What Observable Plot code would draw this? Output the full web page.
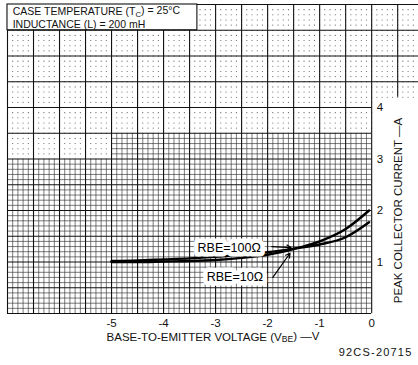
<!DOCTYPE html>
<html><head><meta charset="utf-8">
<script src="https://cdn.jsdelivr.net/npm/d3@7"></script>
<script src="https://cdn.jsdelivr.net/npm/@observablehq/plot@0.6"></script>
<style>
html,body{margin:0;padding:0;background:#fff;}
#chart svg{display:block;}
</style></head><body><div id="chart"></div>
<script>
// ---- data ----
const vbe = [-5, -4.5, -4, -3.5, -3, -2.5, -2, -1.5, -1, -0.5, -0.05];
const ic10 = [1.0, 1.0, 1.01, 1.02, 1.04, 1.08, 1.14, 1.25, 1.4, 1.64, 2.0];
const ic100 = [1.02, 1.03, 1.05, 1.07, 1.1, 1.14, 1.19, 1.26, 1.34, 1.48, 1.77];
const xTicks = [-5, -4, -3, -2, -1, 0];
const yTicks = [1, 2, 3, 4];
const seriesLabels = ["RBE=100\u03A9", "RBE=10\u03A9"];
const labelX = [-2.74, -2.63];
const labelY = [1.28, 0.70];
const arrowX1 = [-1.92, -1.9];
const arrowY1 = [1.30, 0.70];
const arrowX2 = [-1.55, -1.57];
const arrowY2 = [1.28, 1.17];
const notes = ["CASE TEMPERATURE (T_C) = 25\u00B0C", "INDUCTANCE (L) = 200 mH"];
const noteX = [-6.9, -6.9];
const noteY = [5.865, 5.61];
const noteBox = {x1: -7, x2: -3.35, y1: 5.5, y2: 6};
const xTitle = "BASE-TO-EMITTER VOLTAGE (V_BE) \u2014V";
const yTitle = "PEAK COLLECTOR CURRENT \u2014A";
const yTitlePos = {x: 0, y: 2.0};
const code = "92CS-20715";

// ---- tables ----
const curve10 = vbe.map((v, i) => ({v, i: ic10[i]}));
const curve100 = vbe.map((v, i) => ({v, i: ic100[i]}));
const annots = seriesLabels.map((t, k) => ({t, x: labelX[k], y: labelY[k], x1: arrowX1[k], y1: arrowY1[k], x2: arrowX2[k], y2: arrowY2[k]}));

// ---- graph paper ----
const r1 = v => Math.round(v * 10) / 10;
const isMajor = v => Math.abs(v * 2 - Math.round(v * 2)) < 1e-6;
const majV = d3.range(-7, 0.001, 0.5).map(r1).map(x => ({x, y1: 0, y2: 6}));
majV.push({x: 0.5, y1: 4.2, y2: 6});
const majH = d3.range(0, 6.001, 0.5).map(r1).map(y => ({y, x1: -7, x2: y >= 4.5 ? 0.9 : 0}));
const fineTop = x => (x >= -5 ? 3.5 : 3.0);
const fineV = d3.range(-70, 1).map(k => k / 10).filter(x => !isMajor(x)).map(x => ({x, y1: 0, y2: fineTop(x)}));
const fineH = d3.range(1, 35).map(k => k / 10).filter(y => !isMajor(y)).map(y => ({y, x1: y <= 3.0 ? -7 : -5, x2: 0}));
const dots = [];
for (let a = -70; a <= 9; a++) {
  for (let b = 0; b <= 60; b++) {
    const x = a / 10, y = b / 10;
    if (isMajor(x) && isMajor(y)) continue;
    if (x > 0 && y < 4.2) continue;
    if (x <= 0 && y <= fineTop(x)) continue;
    dots.push({x, y});
  }
}

const chart = Plot.plot({
  width: 418, height: 365,
  marginLeft: 7, marginRight: 0, marginTop: 4, marginBottom: 52,
  x: {domain: [-7, 0.9], axis: null},
  y: {domain: [0, 6], axis: null},
  style: {fontFamily: "Liberation Sans, Arial, sans-serif", background: "white"},
  marks: [
    Plot.dot(dots, {x: "x", y: "y", r: 0.55, fill: "#555", stroke: null}),
    Plot.ruleX(fineV, {x: "x", y1: "y1", y2: "y2", stroke: "#333", strokeWidth: 0.65}),
    Plot.ruleY(fineH, {y: "y", x1: "x1", x2: "x2", stroke: "#333", strokeWidth: 0.65}),
    Plot.ruleX(majV, {x: "x", y1: "y1", y2: "y2", stroke: "#111", strokeWidth: 1.1}),
    Plot.ruleY(majH, {y: "y", x1: "x1", x2: "x2", stroke: "#111", strokeWidth: 1.1}),
    Plot.rect([noteBox], {x1: "x1", x2: "x2", y1: "y1", y2: "y2", fill: "white", stroke: "#111", strokeWidth: 1.1}),
    Plot.text(notes, {x: (d, k) => noteX[k], y: (d, k) => noteY[k], text: d => d, textAnchor: "start", fontSize: 10.5, fill: "#111"}),
    Plot.line(curve100, {x: "v", y: "i", curve: "monotone-x", stroke: "#000", strokeWidth: 2.4}),
    Plot.line(curve10, {x: "v", y: "i", curve: "monotone-x", stroke: "#000", strokeWidth: 2.4}),
    Plot.text(annots, {x: "x", y: "y", text: "t", fontSize: 12.5, fill: "#000", stroke: "white", strokeWidth: 9, paintOrder: "stroke"}),
    Plot.arrow(annots, {x1: "x1", y1: "y1", x2: "x2", y2: "y2", stroke: "#000", strokeWidth: 1.2, headLength: 6}),
    Plot.text(xTicks, {x: d => d, y: 0, dy: 10, text: d => String(d), fontSize: 11.5, fill: "#111"}),
    Plot.text(yTicks, {x: 0, y: d => d, dx: 5, text: d => String(d), textAnchor: "start", fontSize: 11.5, fill: "#111"}),
    Plot.text([xTitle], {frameAnchor: "bottom", dy: 27, text: d => d, fontSize: 11.5, fill: "#111"}),
    Plot.text([yTitle], {x: yTitlePos.x, y: yTitlePos.y, dx: 27, rotate: -90, text: d => d, fontSize: 11.5, fill: "#111"}),
    Plot.text([code], {frameAnchor: "bottom-right", dx: -6, dy: 42, textAnchor: "end", text: d => d, fontSize: 11, fill: "#111"})
  ]
});

// subscripts: "A_B" -> A with subscript B
d3.select(chart).selectAll("text").each(function () {
  const el = d3.select(this);
  const s = el.text();
  if (s === code) el.attr("letter-spacing", "1.2");
  const m = s.match(/^(.*?)_([A-Z]+)(.*)$/);
  if (!m) return;
  el.text(null);
  el.append("tspan").text(m[1]);
  el.append("tspan").attr("dy", "0.22em").attr("font-size", "0.75em").text(m[2]);
  el.append("tspan").attr("dy", "-0.22em").text(m[3]);
});

document.getElementById("chart").appendChild(chart);
</script>
</body></html>
